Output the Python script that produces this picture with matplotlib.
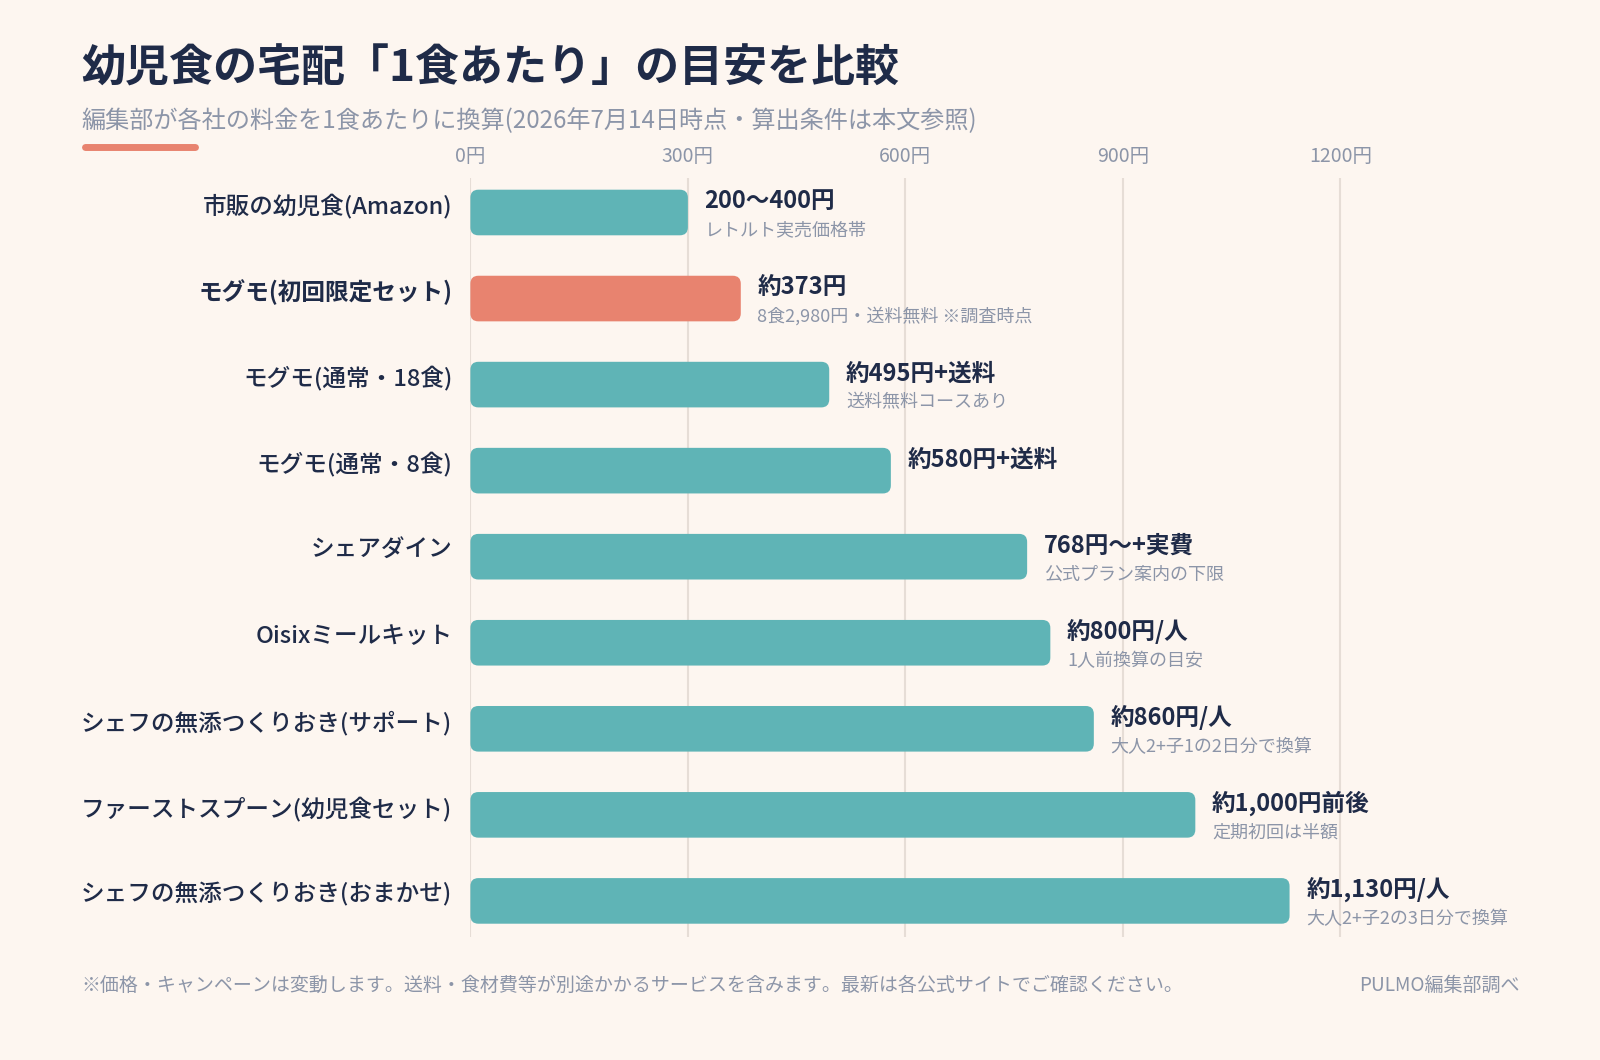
import matplotlib
matplotlib.use("Agg")
import matplotlib.pyplot as plt
from matplotlib.patches import FancyBboxPatch

plt.rcParams['font.family'] = ['Noto Sans CJK JP', 'DejaVu Sans']

# data
services = ["市販の幼児食(Amazon)", "モグモ(初回限定セット)", "モグモ(通常・18食)", "モグモ(通常・8食)",
            "シェアダイン", "Oisixミールキット", "シェフの無添つくりおき(サポート)",
            "ファーストスプーン(幼児食セット)", "シェフの無添つくりおき(おまかせ)"]
prices = [300, 373, 495, 580, 768, 800, 860, 1000, 1130]
price_text = ["200〜400円", "約373円", "約495円+送料", "約580円+送料", "768円〜+実費",
              "約800円/人", "約860円/人", "約1,000円前後", "約1,130円/人"]
notes = ["レトルト実売価格帯", "8食2,980円・送料無料 ※調査時点", "送料無料コースあり", "",
         "公式プラン案内の下限", "1人前換算の目安", "大人2+子1の2日分で換算",
         "定期初回は半額", "大人2+子2の3日分で換算"]
highlight = 1
xticks = [0, 300, 600, 900, 1200]

bg = "#fdf6f0"
navy = "#1f2b48"
gray = "#8c95a8"
teal = "#5fb4b6"
salmon = "#e8836f"

fig = plt.figure(figsize=(16, 10.6), dpi=100, facecolor=bg)
ax = fig.add_axes([0.294, 0.116, 0.589, 0.716], facecolor=bg)

ax.set_xlim(0, 1300)
ax.set_ylim(8.42, -0.4)

h = 0.53
for i, v in enumerate(prices):
    c = salmon if i == highlight else teal
    p = FancyBboxPatch((0, i - h / 2), v, h, boxstyle="round,pad=0,rounding_size=11",
                       mutation_aspect=0.0085, fc=c, ec="none", zorder=3)
    ax.add_patch(p)
    ax.annotate(price_text[i], (v, i), xytext=(12, 8), textcoords="offset points",
                ha="left", va="center", fontsize=17, fontweight="bold", color=navy)
    if notes[i]:
        ax.annotate(notes[i], (v, i), xytext=(12, -13), textcoords="offset points",
                    ha="left", va="center", fontsize=13, color=gray)
    # category label
    ax.annotate(services[i], (0, i), xycoords=("axes fraction", "data"), xytext=(-13, 4.5),
                textcoords="offset points", ha="right", va="center", fontsize=17, color=navy,
                fontweight="bold" if i == highlight else "medium", annotation_clip=False)

ax.set_xticks(xticks)
ax.set_xticklabels([f"{t}円" for t in xticks], fontsize=14, color=gray)
ax.xaxis.tick_top()
ax.tick_params(axis="x", length=0, pad=8)
ax.grid(axis="x", color="#e6ddd6", lw=1.5, zorder=0)
ax.set_axisbelow(True)
ax.set_yticks([])

for s in ax.spines.values():
    s.set_visible(False)

fig.text(0.051, 0.935, "幼児食の宅配「1食あたり」の目安を比較", fontsize=31.7, fontweight="bold",
         color=navy, va="center")
fig.text(0.051, 0.886, "編集部が各社の料金を1食あたりに換算(2026年7月14日時点・算出条件は本文参照)",
         fontsize=17.4, color=gray, va="center")
fig.add_artist(plt.Line2D([0.053, 0.122], [0.861, 0.861], color=salmon, lw=5,
                          solid_capstyle="round"))

fig.text(0.051, 0.07, "※価格・キャンペーンは変動します。送料・食材費等が別途かかるサービスを含みます。最新は各公式サイトでご確認ください。",
         fontsize=13.7, color=gray, va="center")
fig.text(0.95, 0.07, "PULMO編集部調べ", fontsize=13.7, color=gray, va="center", ha="right")

fig.savefig("out.png", dpi=100, facecolor=bg)
